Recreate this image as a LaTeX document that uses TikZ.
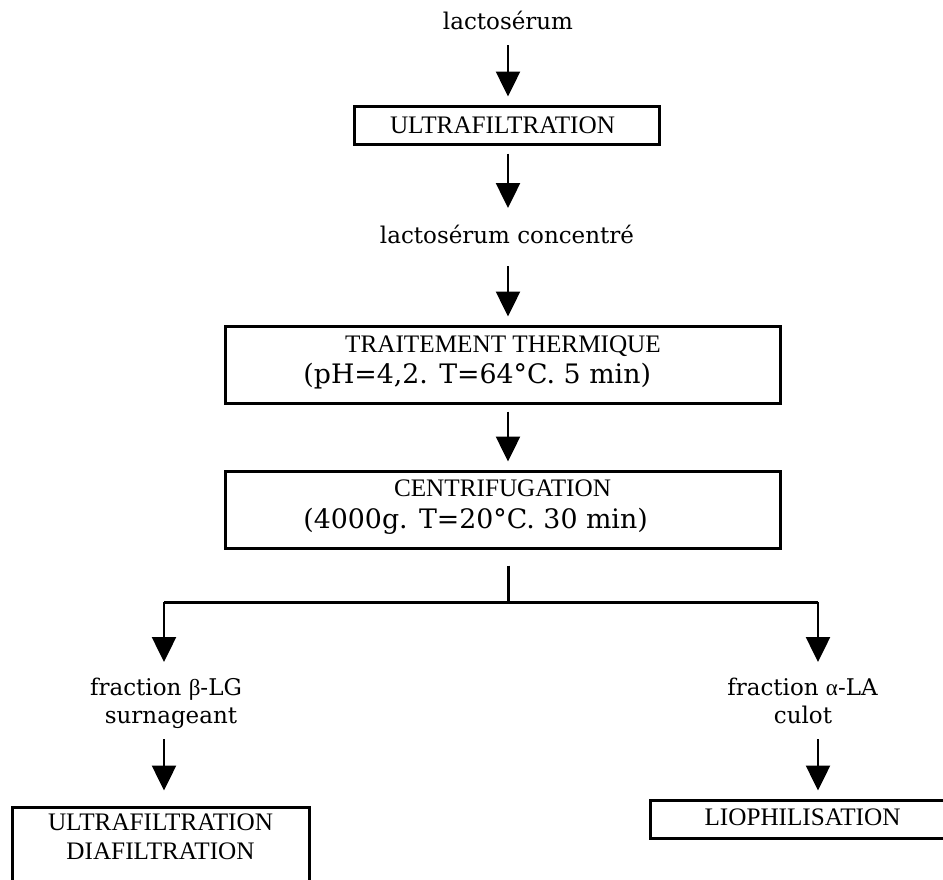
\documentclass[tikz,border=0pt]{standalone}
\usepackage{fontspec}
\setmainfont{Liberation Serif}
\newfontfamily\bkfont{DejaVu Serif}
\usetikzlibrary{arrows.meta,calc}

\tikzset{
  box/.style={draw, line width=1.5pt, inner sep=0pt},
  ttl/.style={anchor=base, inner sep=0pt, font=\fontsize{12.6}{14}\selectfont},
  lbl/.style={anchor=base, inner sep=0pt, font=\bkfont\fontsize{11.5}{13.5}\selectfont},
  prm/.style={anchor=base west, inner sep=0pt, font=\bkfont\fontsize{13.4}{15}\selectfont},
  arr/.style={line width=1.25pt, -{Triangle[width=12pt,length=12.5pt]}},
  ln/.style={line width=1.5pt}
}

\begin{document}
\begin{tikzpicture}[x=0.5pt,y=-0.5pt]
\useasboundingbox (0,0) rectangle (943,879);
\clip (0,0) rectangle (943,879);
\fill[white] (0,0) rectangle (943,879);

% boxes
\node[box, minimum width=152.5pt, minimum height=19pt] (uf) at (506.5,125) {};
\node[box, minimum width=277.5pt, minimum height=38.5pt] (tt) at (502.5,364.5) {};
\node[box, minimum width=277.5pt, minimum height=38.5pt] (cf) at (502.5,509.5) {};
\node[box, minimum width=148.5pt, minimum height=46.5pt] (udf) at (160.5,853.5) {};
\node[box, minimum width=155pt, minimum height=19pt] (lio) at (805,819) {};

% texts
\node[lbl] (src) at (508,29) {lactosérum};
\node[ttl] (uft) at (502.5,133) {ULTRAFILTRATION};
\node[lbl] (conc) at (507,243) {lactosérum concentré};
\node[ttl] (ttt) at (503,352) {TRAITEMENT THERMIQUE};
\node[prm] (ttp) at (303,383) {(pH=4,2. T=64°C. 5 min)};
\node[ttl] (cft) at (502.5,496) {CENTRIFUGATION};
\node[prm] (cfp) at (303,528) {(4000g. T=20°C. 30 min)};
\node[lbl] (lb1) at (166,695) {fraction {\rmfamily β}-LG};
\node[lbl] (lb2) at (171,723) {surnageant};
\node[lbl] (la1) at (802.5,695) {fraction {\rmfamily α}-LA};
\node[lbl] (la2) at (803,723) {culot};
\node[ttl] (udf1) at (160.5,830) {ULTRAFILTRATION};
\node[ttl] (udf2) at (160.5,859) {DIAFILTRATION};
\node[ttl] (liot) at (802.5,825) {LIOPHILISATION};

% branch points
\coordinate (split) at (508,602);
\coordinate (bl) at (164,602);
\coordinate (br) at (818,602);

% connectors
\draw[arr] ($(src.base)+(0,16)$) -- ($(src.base |- uf.north)+(0,-8)$);
\draw[arr] ($(conc.base |- uf.south)+(1,8)$) -- ($(conc.base)+(1,-35)$);
\draw[arr] ($(conc.base)+(1,23)$) -- ($(conc.base |- tt.north)+(1,-8)$);
\draw[arr] ($(split |- tt.south)+(0,7)$) -- ($(split |- cf.north)+(0,-8)$);
\draw[ln] ($(split |- cf.south)+(0,16)$) -- (split);
\draw[ln] (bl) -- (br);
\draw[arr] (bl) -- ($(bl |- lb1.base)+(0,-33)$);
\draw[arr] (br) -- ($(br |- la1.base)+(0,-33)$);
\draw[arr] ($(bl |- lb2.base)+(0,16)$) -- ($(bl |- udf.north)+(0,-15)$);
\draw[arr] ($(br |- la2.base)+(0,16)$) -- ($(br |- lio.north)+(0,-8)$);
\end{tikzpicture}
\end{document}
